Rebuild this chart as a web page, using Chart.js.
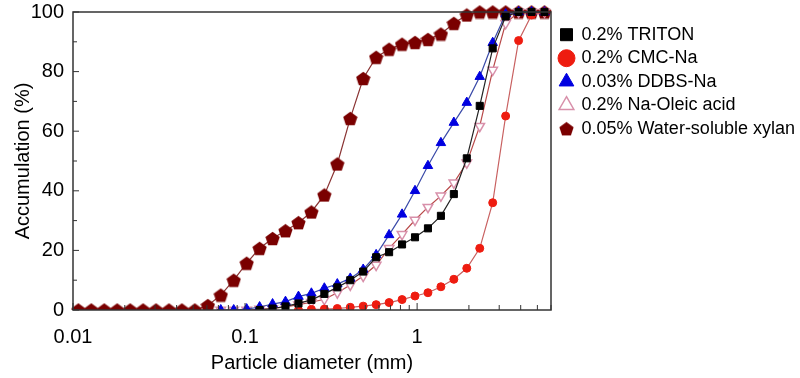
<!DOCTYPE html>
<html>
<head>
<meta charset="utf-8">
<script src="https://cdn.jsdelivr.net/npm/chart.js@4.4.1/dist/chart.umd.min.js"></script>
<style>
  body { margin: 0; background: #fff; }
</style>
</head>
<body>
<canvas id="psd" width="800" height="378"></canvas>
<script>
// particle size classes (mm)
var sizes = [0.01074, 0.01277, 0.01519, 0.01806, 0.02148, 0.02554, 0.03038, 0.03613, 0.04296, 0.05109,
  0.06076, 0.07226, 0.08592, 0.1022, 0.1215, 0.1445, 0.1718, 0.2044, 0.2430, 0.2890,
  0.3437, 0.4087, 0.4861, 0.5780, 0.6874, 0.8175, 0.9722, 1.156, 1.375, 1.635,
  1.944, 2.312, 2.750, 3.270, 3.889, 4.625, 5.500];

var labels = ["0.2% TRITON", "0.2% CMC-Na", "0.03% DDBS-Na", "0.2% Na-Oleic acid", "0.05% Water-soluble xylan"];

var triton = [null, null, null, null, null, null, null, null, null, null,
  null, null, null, null, 0, 0.5, 1.2, 2.2, 3.4, 5.4,
  7.6, 10, 12.9, 17.7, 19.4, 22, 24.4, 27.4, 31.6, 38.9,
  50.9, 68.5, 87.8, 98.5, 100, 100, 100];

var cmc = [null, null, null, null, null, null, null, null, null, null,
  null, null, null, null, null, null, null, 0, 0.2, 0.3,
  0.5, 0.9, 1.3, 1.8, 2.5, 3.5, 4.7, 5.8, 7.8, 10.3,
  14, 20.7, 36, 65.1, 90.4, 99, 100];

var ddbs = [null, null, null, null, null, null, null, null, null, null,
  null, 0, 0, 0.3, 1, 2, 2.8, 4.5, 5.6, 7.3,
  8.7, 10.6, 13.6, 18.5, 25.2, 32.1, 40, 48.4, 56.1, 62.9,
  69.6, 78.3, 89.7, 99.3, 100, 100, 100];

var oleic = [null, null, null, null, null, null, null, null, null, null,
  null, 0, 0, 0, 0.3, 0.5, 1, 1.8, 2.6, 3.6,
  5.8, 8.4, 11.4, 15.1, 20.7, 25.4, 30.2, 34.5, 38.3, 42.7,
  49.4, 61.7, 80.5, 96.2, 100, 100, 100];

var xylan = [0, 0, 0, 0, 0, 0, 0, 0, 0, 0,
  1.5, 5, 10, 15.7, 20.7, 24, 26.6, 29.3, 32.9, 38.6,
  49, 64.3, 77.7, 84.8, 87.5, 89.2, 89.8, 90.8, 92.6, 96.2,
  99, 100, 100, 100, 100, 100, 100];

var xTickLabels = [0.01, 0.1, 1];
var yTicks = [0, 20, 40, 60, 80, 100];

function pairs(values) {
  var out = [];
  for (var i = 0; i < sizes.length; i++) {
    out.push({ x: sizes[i], y: values[i] });
  }
  return out;
}

// pentagon marker, chart.js has no built-in one
var pent = document.createElement("canvas");
pent.width = 15;
pent.height = 15;
var pc = pent.getContext("2d");
pc.fillStyle = "#7a0000";
pc.beginPath();
for (var k = 0; k < 5; k++) {
  var a = -Math.PI / 2 + k * 2 * Math.PI / 5;
  var px = 7.5 + 7.5 * Math.cos(a);
  var py = 8.2 + 7.5 * Math.sin(a);
  if (k === 0) pc.moveTo(px, py); else pc.lineTo(px, py);
}
pc.closePath();
pc.fill();

var framePlugin = {
  id: "frame",
  afterLayout: function (chart) {
    // nudge the legend a little to the right of the plot box
    chart.legend.left += 4;
    chart.legend.right += 4;
  },
  afterDatasetsDraw: function (chart) {
    var area = chart.chartArea;
    var ctx = chart.ctx;
    var xs = chart.scales.x;
    var ys = chart.scales.y;
    ctx.save();
    ctx.strokeStyle = "#333";
    ctx.lineWidth = 1;
    // inward ticks
    for (var v = 0; v <= 100; v += 10) {
      var yy = ys.getPixelForValue(v);
      ctx.beginPath();
      ctx.moveTo(area.left, yy);
      ctx.lineTo(area.left + (v % 20 === 0 ? 6 : 4), yy);
      ctx.stroke();
    }
    for (var d = 0; d < xTickLabels.length; d++) {
      for (var m = 1; m <= 9; m++) {
        var val = xTickLabels[d] * m;
        if (val > 6) break;
        var xx = xs.getPixelForValue(val);
        ctx.beginPath();
        ctx.moveTo(xx, area.bottom);
        ctx.lineTo(xx, area.bottom - (m === 1 ? 7 : 5));
        ctx.stroke();
      }
    }
    ctx.lineWidth = 1.5;
    ctx.strokeRect(area.left, area.top, area.right - area.left, area.bottom - area.top);
    ctx.restore();
  }
};

Chart.defaults.font.family = "'Liberation Sans', Arial, sans-serif";
Chart.defaults.color = "#000";

var ctx = document.getElementById("psd");
var psdChart = new Chart(ctx, {
  type: "line",
  data: {
    datasets: [
      {
        label: labels[0],
        data: pairs(triton),
        borderColor: "#222",
        borderWidth: 1.2,
        pointStyle: "rect",
        pointRadius: 5,
        pointBackgroundColor: "#000",
        pointBorderColor: "#000",
        pointBorderWidth: 1
      },
      {
        label: labels[1],
        data: pairs(cmc),
        borderColor: "#c86060",
        borderWidth: 1.2,
        pointStyle: "circle",
        pointRadius: 4,
        pointBackgroundColor: "#ee1c10",
        pointBorderColor: "#ee1c10",
        pointBorderWidth: 1
      },
      {
        label: labels[2],
        data: pairs(ddbs),
        borderColor: "#3a4aa8",
        borderWidth: 1.2,
        pointStyle: "triangle",
        pointRadius: 5.5,
        pointBackgroundColor: "#0000e0",
        pointBorderColor: "#0000e0",
        pointBorderWidth: 1
      },
      {
        label: labels[3],
        data: pairs(oleic),
        borderColor: "#b84848",
        borderWidth: 1.2,
        pointStyle: "triangle",
        pointRotation: 180,
        pointRadius: 5.5,
        pointBackgroundColor: "#fff",
        pointBorderColor: "#d890aa",
        pointBorderWidth: 1.5
      },
      {
        label: labels[4],
        data: pairs(xylan),
        borderColor: "#8a3434",
        borderWidth: 1.2,
        pointStyle: pent,
        pointBackgroundColor: "#7a0000",
        pointBorderColor: "#7a0000"
      }
    ]
  },
  options: {
    responsive: false,
    animation: false,
    clip: { left: 10, top: 10, right: 10, bottom: 0 },
    elements: { line: { tension: 0 } },
    layout: { padding: { top: 0, right: 0, left: 0, bottom: 0 } },
    scales: {
      x: {
        type: "logarithmic",
        min: 0.01,
        max: 6,
        afterFit: function (scale) { scale.height = 68; },
        grid: { display: false, drawTicks: false },
        border: { display: false },
        ticks: {
          autoSkip: false,
          maxRotation: 0,
          padding: 15,
          font: { size: 20 },
          callback: function (value) {
            for (var i = 0; i < xTickLabels.length; i++) {
              if (Math.abs(value - xTickLabels[i]) < xTickLabels[i] * 1e-6) return String(xTickLabels[i]);
            }
            return "";
          }
        },
        title: {
          display: true,
          text: "Particle diameter (mm)",
          font: { size: 20 },
          padding: { top: 0, bottom: 3 }
        }
      },
      y: {
        min: 0,
        max: 100,
        afterFit: function (scale) { scale.width = 73; },
        afterBuildTicks: function (scale) {
          scale.ticks = yTicks.map(function (v) { return { value: v }; });
        },
        grid: { display: true, drawOnChartArea: false, drawTicks: true, tickLength: 9, tickColor: "rgba(0,0,0,0)" },
        border: { display: false },
        ticks: { padding: 0, font: { size: 20 } },
        title: {
          display: true,
          text: "Accumulation (%)",
          font: { size: 20 },
          padding: { top: 11, bottom: 0 }
        }
      }
    },
    plugins: {
      tooltip: { enabled: false },
      legend: {
        position: "right",
        align: "start",
        maxWidth: 249,
        title: { display: true, text: " ", font: { size: 1 }, padding: { top: 19, bottom: 0 } },
        labels: {
          usePointStyle: true,
          boxWidth: 12,
          boxHeight: 12,
          padding: 5.5,
          font: { size: 18 },
          color: "#000",
          generateLabels: function (chart) {
            var items = Chart.defaults.plugins.legend.labels.generateLabels(chart);
            items.forEach(function (it) { it.rotation = 0; });
            return items;
          }
        }
      }
    }
  },
  plugins: [framePlugin]
});
</script>
</body>
</html>
